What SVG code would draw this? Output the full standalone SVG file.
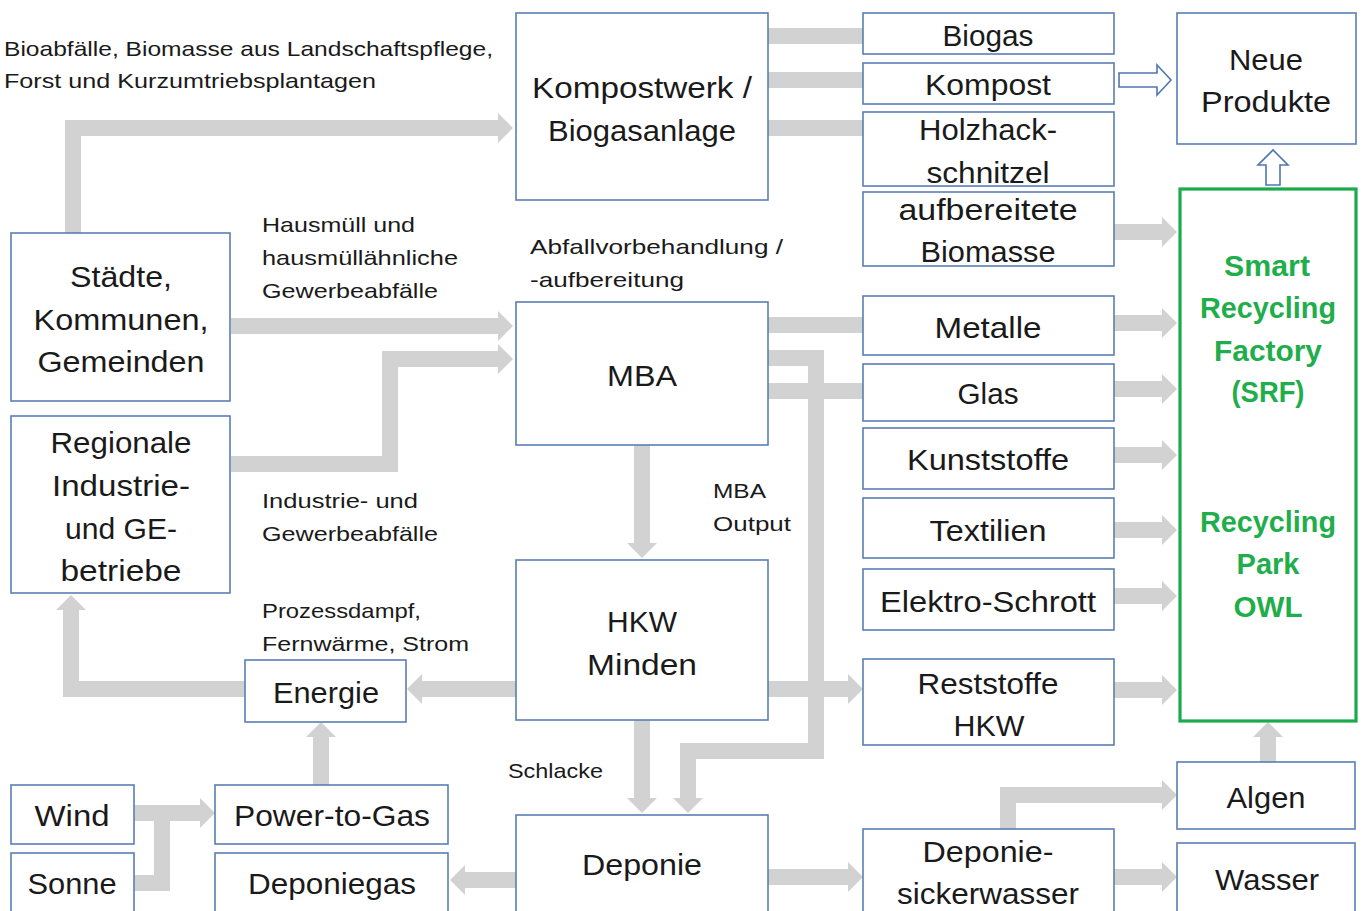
<svg xmlns="http://www.w3.org/2000/svg" width="1365" height="911" viewBox="0 0 1365 911">
<defs>
<marker id="ah" markerUnits="userSpaceOnUse" markerWidth="16" markerHeight="30" refX="0" refY="15" orient="auto" overflow="visible">
<path d="M0,0 L15,15 L0,30 z" fill="#d2d2d2"/>
</marker>
<style>
.box{fill:#fff;stroke:#5a7db5;stroke-width:1.6}
.srf{fill:#fff;stroke:#1aab4a;stroke-width:3.2}
.c{fill:none;stroke:#d2d2d2;stroke-width:16;stroke-linejoin:miter}
.a{marker-end:url(#ah)}
.oa{fill:#fff;stroke:#4f76b3;stroke-width:1.6}
text{font-family:"Liberation Sans",Arial,sans-serif;fill:#1a1a1a}
.big{font-size:29px;text-anchor:middle}
.sm{font-size:21px}
.g{font-size:29px;font-weight:bold;fill:#1fae4b;text-anchor:middle}
</style>
</defs>
<rect width="1365" height="911" fill="#fff"/>

<g id="connectors">
<path class="c a" d="M73,233 V128 H498"/>
<path class="c" d="M768,36 H863"/>
<path class="c" d="M768,80 H863"/>
<path class="c" d="M768,128 H863"/>
<path class="c a" d="M1114,232 H1162"/>
<path class="c a" d="M231,326 H498"/>
<path class="c a" d="M231,464 H390 V359 H498"/>
<path class="c" d="M768,325 H863"/>
<path class="c a" d="M768,358 H816 V751 H688 V798"/>
<path class="c" d="M768,391 H863"/>
<path class="c a" d="M1114,323 H1162"/>
<path class="c a" d="M1114,389 H1162"/>
<path class="c a" d="M1114,455 H1162"/>
<path class="c a" d="M1114,530 H1162"/>
<path class="c a" d="M1114,596 H1162"/>
<path class="c a" d="M1114,690 H1162"/>
<path class="c a" d="M642,445 V543"/>
<path class="c a" d="M516,689 H422"/>
<path class="c a" d="M768,689 H848"/>
<path class="c a" d="M245,689 H71 V610"/>
<path class="c a" d="M642,720 V798"/>
<path class="c a" d="M321,785 V737"/>
<path class="c a" d="M134,813 H200"/>
<path class="c" d="M134,883 H162 V813"/>
<path class="c a" d="M516,880 H465"/>
<path class="c a" d="M768,877 H848"/>
<path class="c a" d="M1008,829 V795 H1162"/>
<path class="c a" d="M1114,877 H1162"/>
<path class="c a" d="M1268,762 V737"/>
<polygon class="oa" points="1119,73 1157,73 1157,65 1171,80 1157,95 1157,87 1119,87"/>
<polygon class="oa" points="1266,185 1266,165 1258,165 1273,150 1288,165 1280,165 1280,185"/>
</g>

<g id="labels">
<text class="sm" x="4" y="56" textLength="489" lengthAdjust="spacingAndGlyphs">Bioabfälle, Biomasse aus Landschaftspflege,</text>
<text class="sm" x="4" y="88" textLength="372" lengthAdjust="spacingAndGlyphs">Forst und Kurzumtriebsplantagen</text>
<text class="sm" x="262" y="232" textLength="153" lengthAdjust="spacingAndGlyphs">Hausmüll und</text>
<text class="sm" x="262" y="265" textLength="196" lengthAdjust="spacingAndGlyphs">hausmüllähnliche</text>
<text class="sm" x="262" y="298" textLength="176" lengthAdjust="spacingAndGlyphs">Gewerbeabfälle</text>
<text class="sm" x="530" y="254" textLength="253" lengthAdjust="spacingAndGlyphs">Abfallvorbehandlung /</text>
<text class="sm" x="530" y="287" textLength="154" lengthAdjust="spacingAndGlyphs">-aufbereitung</text>
<text class="sm" x="262" y="508" textLength="156" lengthAdjust="spacingAndGlyphs">Industrie- und</text>
<text class="sm" x="262" y="541" textLength="176" lengthAdjust="spacingAndGlyphs">Gewerbeabfälle</text>
<text class="sm" x="713" y="498" textLength="53" lengthAdjust="spacingAndGlyphs">MBA</text>
<text class="sm" x="713" y="531" textLength="78" lengthAdjust="spacingAndGlyphs">Output</text>
<text class="sm" x="262" y="618" textLength="159" lengthAdjust="spacingAndGlyphs">Prozessdampf,</text>
<text class="sm" x="262" y="651" textLength="207" lengthAdjust="spacingAndGlyphs">Fernwärme, Strom</text>
<text class="sm" x="508" y="778" textLength="95" lengthAdjust="spacingAndGlyphs">Schlacke</text>
</g>

<g id="kompostwerk"><rect class="box" x="516" y="13" width="252" height="187"/>
<text class="big" x="642" y="98" textLength="220" lengthAdjust="spacingAndGlyphs">Kompostwerk /</text>
<text class="big" x="642" y="141" textLength="188" lengthAdjust="spacingAndGlyphs">Biogasanlage</text></g>

<g id="biogas"><rect class="box" x="863" y="13" width="251" height="41"/>
<text class="big" x="988" y="46" textLength="91" lengthAdjust="spacingAndGlyphs">Biogas</text></g>
<g id="kompost"><rect class="box" x="863" y="63" width="251" height="41"/>
<text class="big" x="988" y="95" textLength="126" lengthAdjust="spacingAndGlyphs">Kompost</text></g>
<g id="holzhack"><rect class="box" x="863" y="112" width="251" height="74"/>
<text class="big" x="988" y="140" textLength="138" lengthAdjust="spacingAndGlyphs">Holzhack-</text>
<text class="big" x="988" y="183" textLength="123" lengthAdjust="spacingAndGlyphs">schnitzel</text></g>
<g id="biomasse"><rect class="box" x="863" y="192" width="251" height="74"/>
<text class="big" x="988" y="220" textLength="179" lengthAdjust="spacingAndGlyphs">aufbereitete</text>
<text class="big" x="988" y="262" textLength="135" lengthAdjust="spacingAndGlyphs">Biomasse</text></g>

<g id="neue-produkte"><rect class="box" x="1177" y="13" width="179" height="131"/>
<text class="big" x="1266" y="70" textLength="74" lengthAdjust="spacingAndGlyphs">Neue</text>
<text class="big" x="1266" y="112" textLength="130" lengthAdjust="spacingAndGlyphs">Produkte</text></g>

<g id="srf"><rect class="srf" x="1180" y="189" width="176" height="532"/>
<text class="g" x="1267" y="276" textLength="86" lengthAdjust="spacingAndGlyphs">Smart</text>
<text class="g" x="1268" y="318" textLength="136" lengthAdjust="spacingAndGlyphs">Recycling</text>
<text class="g" x="1268" y="361" textLength="108" lengthAdjust="spacingAndGlyphs">Factory</text>
<text class="g" x="1268" y="402" textLength="73" lengthAdjust="spacingAndGlyphs">(SRF)</text>
<text class="g" x="1268" y="532" textLength="136" lengthAdjust="spacingAndGlyphs">Recycling</text>
<text class="g" x="1268" y="574" textLength="63" lengthAdjust="spacingAndGlyphs">Park</text>
<text class="g" x="1268" y="617" textLength="69" lengthAdjust="spacingAndGlyphs">OWL</text></g>

<g id="staedte"><rect class="box" x="11" y="233" width="219" height="168"/>
<text class="big" x="121" y="287" textLength="102" lengthAdjust="spacingAndGlyphs">Städte,</text>
<text class="big" x="121" y="330" textLength="175" lengthAdjust="spacingAndGlyphs">Kommunen,</text>
<text class="big" x="121" y="372" textLength="167" lengthAdjust="spacingAndGlyphs">Gemeinden</text></g>

<g id="regionale"><rect class="box" x="11" y="416" width="219" height="177"/>
<text class="big" x="121" y="453" textLength="141" lengthAdjust="spacingAndGlyphs">Regionale</text>
<text class="big" x="121" y="496" textLength="138" lengthAdjust="spacingAndGlyphs">Industrie-</text>
<text class="big" x="121" y="539" textLength="112" lengthAdjust="spacingAndGlyphs">und GE-</text>
<text class="big" x="121" y="581" textLength="121" lengthAdjust="spacingAndGlyphs">betriebe</text></g>

<g id="mba"><rect class="box" x="516" y="302" width="252" height="143"/>
<text class="big" x="642" y="386" textLength="70" lengthAdjust="spacingAndGlyphs">MBA</text></g>

<g id="metalle"><rect class="box" x="863" y="296" width="251" height="59"/>
<text class="big" x="988" y="338" textLength="107" lengthAdjust="spacingAndGlyphs">Metalle</text></g>
<g id="glas"><rect class="box" x="863" y="364" width="251" height="57"/>
<text class="big" x="988" y="404" textLength="61" lengthAdjust="spacingAndGlyphs">Glas</text></g>
<g id="kunststoffe"><rect class="box" x="863" y="428" width="251" height="61"/>
<text class="big" x="988" y="470" textLength="162" lengthAdjust="spacingAndGlyphs">Kunststoffe</text></g>
<g id="textilien"><rect class="box" x="863" y="498" width="251" height="60"/>
<text class="big" x="988" y="541" textLength="117" lengthAdjust="spacingAndGlyphs">Textilien</text></g>
<g id="elektro"><rect class="box" x="863" y="569" width="251" height="61"/>
<text class="big" x="988" y="612" textLength="216" lengthAdjust="spacingAndGlyphs">Elektro-Schrott</text></g>

<g id="hkw"><rect class="box" x="516" y="560" width="252" height="160"/>
<text class="big" x="642" y="632" textLength="70" lengthAdjust="spacingAndGlyphs">HKW</text>
<text class="big" x="642" y="675" textLength="110" lengthAdjust="spacingAndGlyphs">Minden</text></g>

<g id="energie"><rect class="box" x="245" y="660" width="161" height="62"/>
<text class="big" x="326" y="703" textLength="106" lengthAdjust="spacingAndGlyphs">Energie</text></g>

<g id="reststoffe"><rect class="box" x="863" y="659" width="251" height="86"/>
<text class="big" x="988" y="694" textLength="141" lengthAdjust="spacingAndGlyphs">Reststoffe</text>
<text class="big" x="989" y="736" textLength="71" lengthAdjust="spacingAndGlyphs">HKW</text></g>

<g id="wind"><rect class="box" x="11" y="785" width="123" height="59"/>
<text class="big" x="72" y="826" textLength="75" lengthAdjust="spacingAndGlyphs">Wind</text></g>
<g id="sonne"><rect class="box" x="11" y="853" width="123" height="60"/>
<text class="big" x="72" y="894" textLength="89" lengthAdjust="spacingAndGlyphs">Sonne</text></g>
<g id="power-to-gas"><rect class="box" x="215" y="785" width="233" height="59"/>
<text class="big" x="332" y="826" textLength="196" lengthAdjust="spacingAndGlyphs">Power-to-Gas</text></g>
<g id="deponiegas"><rect class="box" x="215" y="853" width="233" height="60"/>
<text class="big" x="332" y="894" textLength="168" lengthAdjust="spacingAndGlyphs">Deponiegas</text></g>

<g id="deponie"><rect class="box" x="516" y="815" width="252" height="98"/>
<text class="big" x="642" y="875" textLength="120" lengthAdjust="spacingAndGlyphs">Deponie</text></g>

<g id="sickerwasser"><rect class="box" x="863" y="829" width="251" height="84"/>
<text class="big" x="988" y="862" textLength="131" lengthAdjust="spacingAndGlyphs">Deponie-</text>
<text class="big" x="988" y="904" textLength="182" lengthAdjust="spacingAndGlyphs">sickerwasser</text></g>

<g id="algen"><rect class="box" x="1177" y="762" width="178" height="67"/>
<text class="big" x="1266" y="808" textLength="79" lengthAdjust="spacingAndGlyphs">Algen</text></g>
<g id="wasser"><rect class="box" x="1177" y="843" width="178" height="70"/>
<text class="big" x="1267" y="890" textLength="104" lengthAdjust="spacingAndGlyphs">Wasser</text></g>
</svg>
